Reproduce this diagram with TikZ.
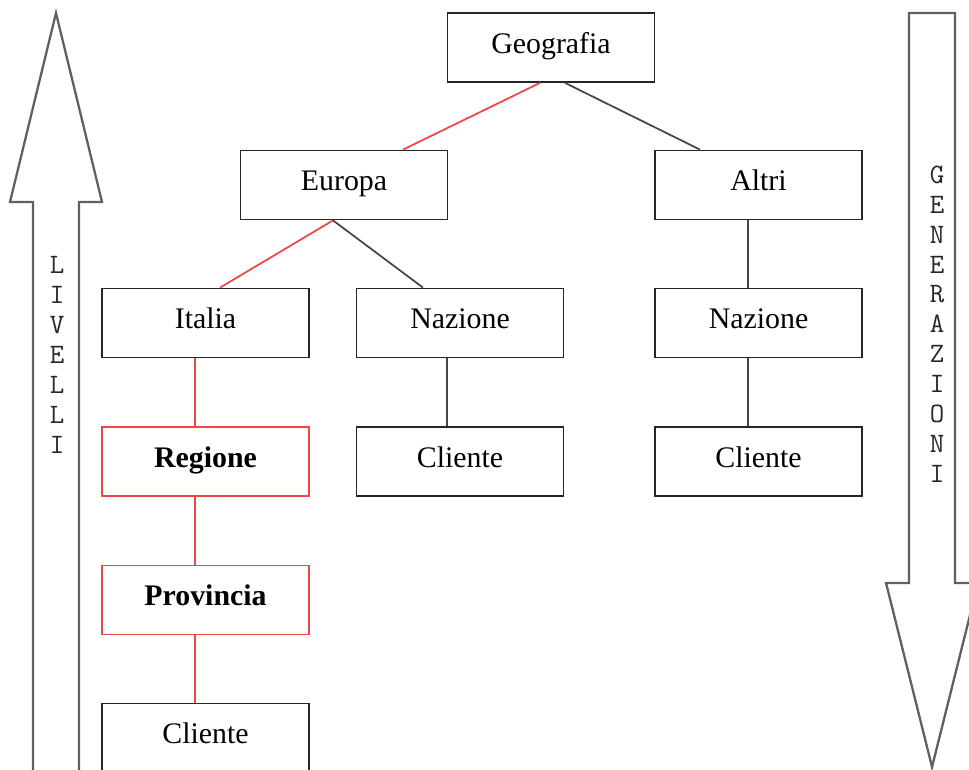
\documentclass[tikz,border=0pt]{standalone}
\usepackage{fontspec}
\setmainfont{Liberation Serif}
\definecolor{rosso}{RGB}{240,70,70}
\definecolor{grigio}{RGB}{70,70,70}

\begin{document}
\begin{tikzpicture}[x=0.02cm,y=-0.02cm,
  box/.style={draw=black!85,line width=1pt,minimum width=4.14cm,minimum height=1.38cm,
    inner sep=0pt,text height=11.5pt,text depth=5pt,font=\fontsize{17}{20}\selectfont},
  redbox/.style={box,draw=rosso,font=\fontsize{17}{20}\selectfont\bfseries},
  link/.style={line width=1pt,grigio},
  redlink/.style={line width=1pt,rosso},
  freccia/.style={draw=gray!75!black,line width=1.3pt,fill=white},
  scritta/.style={font=\ttfamily\fontsize{16}{17}\selectfont,align=center,text=black!85}]
\clip (0,0) rectangle (969,769);
\useasboundingbox (0,0) rectangle (969,769);
% frecce laterali
\draw[freccia] (33,790)--(33,202)--(10,202)--(56,13)--(102,202)--(79,202)--(79,790);
\draw[freccia] (909,13)--(955,13)--(955,583)--(978,583)--(932,767)--(886,583)--(909,583)--cycle;
\node[scritta] (livelli) at (57,355) {L\\I\\V\\E\\L\\L\\I};
\node[scritta] (generazioni) at (937,324) {G\\E\\N\\E\\R\\A\\Z\\I\\O\\N\\I};
% albero
\node[box] (geo) at (551,47.5) {Geografia};
\node[box] (eur) at (344,185) {Europa};
\node[box] (alt) at (758.5,185) {Altri};
\node[box] (ita) at (205.5,323) {Italia};
\node[box] (naz1) at (460,323) {Nazione};
\node[box] (naz2) at (758.5,323) {Nazione};
\node[redbox] (reg) at (205.5,461.5) {Regione};
\node[box] (cli1) at (460,461.5) {Cliente};
\node[box] (cli2) at (758.5,461.5) {Cliente};
\node[redbox] (pro) at (205.5,600) {Provincia};
\node[box] (cli3) at (205.5,738) {Cliente};
\draw[redlink] ([xshift=-0.22cm]geo.south)--([xshift=1.18cm]eur.north);
\draw[link] ([xshift=0.28cm]geo.south)--([xshift=-1.17cm]alt.north);
\draw[redlink] ([xshift=-0.22cm]eur.south)--([xshift=0.29cm]ita.north);
\draw[link] ([xshift=-0.22cm]eur.south)--([xshift=-0.74cm]naz1.north);
\draw[link] ([xshift=-0.21cm]alt.south)--([xshift=-0.21cm]naz2.north);
\draw[link] ([xshift=-0.21cm]naz2.south)--([xshift=-0.21cm]cli2.north);
\draw[link] ([xshift=-0.26cm]naz1.south)--([xshift=-0.26cm]cli1.north);
\draw[redlink] ([xshift=-0.21cm]ita.south)--([xshift=-0.21cm]reg.north);
\draw[redlink] ([xshift=-0.21cm]reg.south)--([xshift=-0.21cm]pro.north);
\draw[redlink] ([xshift=-0.21cm]pro.south)--([xshift=-0.21cm]cli3.north);
\end{tikzpicture}
\end{document}
